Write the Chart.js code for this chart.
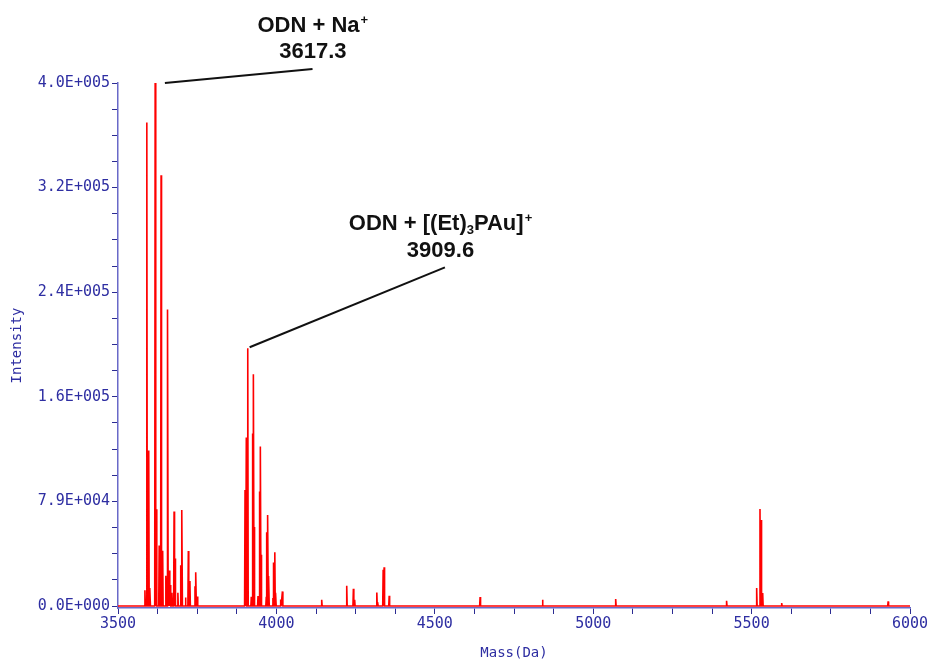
<!DOCTYPE html>
<html>
<head>
<meta charset="utf-8">
<script src="https://cdn.jsdelivr.net/npm/chart.js@4.4.1/dist/chart.umd.min.js"></script>
<style>
  html, body { margin: 0; padding: 0; background: #fff; }
</style>
</head>
<body>
<canvas id="spectrum" width="930" height="662"></canvas>
<script>
// peak list (mass in Da, intensity in counts)
const peakMass = [
  3585, 3591, 3597, 3601, 3617.3, 3621, 3630, 3636, 3641, 3651, 3654, 3657,
  3662, 3665, 3670, 3677, 3680, 3689, 3698, 3702, 3713, 3722, 3727, 3743,
  3746, 3751,
  3901, 3905, 3909.6, 3920.8, 3925, 3928, 3931, 3942, 3947, 3950, 3953,
  3968, 3970, 3973, 3976, 3989, 3991, 3995, 3998, 4013.5, 4019,
  4143, 4222, 4243, 4247, 4317, 4320, 4337, 4340, 4356,
  4643, 4840, 5071, 5421, 5516, 5526.5, 5530, 5535, 5595, 5931
];
const peakIntensity = [
  12000, 367000, 118000, 13600, 397000, 73500, 46000, 327000, 42000, 23000, 21000, 225000,
  27000, 16000, 10000, 71800, 36000, 10000, 31000, 72800, 6400, 41800, 19000, 15000,
  25700, 7300,
  88000, 128000, 195600, 7000, 131000, 176000, 60000, 7500, 87000, 121000, 39000,
  7000, 56000, 69000, 22700, 6000, 33000, 40800, 10000, 5000, 11100,
  4800, 15400, 13100, 4800, 10300, 3000, 27500, 29500, 7800,
  6800, 4800, 5300, 4000, 13600, 73600, 65300, 9800, 2300, 3500
];

const xTickLabels = ['3500', '4000', '4500', '5000', '5500', '6000'];
const yTickLabels = ['0.0E+000', '7.9E+004', '1.6E+005', '2.4E+005', '3.2E+005', '4.0E+005'];

const massMin = 3500, massMax = 6000;
const yMax = 397000;
const yStep = yMax / 20;

// each peak becomes a narrow spike on the zero baseline
function buildSpectrum() {
  const w = 1.4;
  const pts = [{ x: massMin, y: 0 }];
  for (let i = 0; i < peakMass.length; i++) {
    pts.push({ x: peakMass[i] - w, y: 0 });
    pts.push({ x: peakMass[i], y: peakIntensity[i] });
    pts.push({ x: peakMass[i] + w, y: 0 });
  }
  pts.push({ x: massMax, y: 0 });
  return pts;
}

const notes = [
  {
    lines: [[{ t: 'ODN + Na' }, { t: '+', sup: true }], [{ t: '3617.3' }]],
    mass: 4115, baselines: [435800, 415700],
    from: { x: 3648, y: 397000 }, to: { x: 4114, y: 407600 }
  },
  {
    lines: [[{ t: 'ODN + [(Et)' }, { t: '3', sub: true }, { t: 'PAu]' }, { t: '+', sup: true }], [{ t: '3909.6' }]],
    mass: 4518, baselines: [285300, 265200],
    from: { x: 3915.5, y: 196400 }, to: { x: 4532, y: 257100 }
  }
];

const mainFont = 'bold 22px "Liberation Sans", Arial, sans-serif';
const smallFont = 'bold 13px "Liberation Sans", Arial, sans-serif';

const peakLabels = {
  id: 'peakLabels',
  afterDatasetsDraw(chart) {
    const ctx = chart.ctx;
    const xs = chart.scales.x, ys = chart.scales.y;
    ctx.save();
    ctx.strokeStyle = '#111';
    ctx.lineWidth = 2;
    ctx.fillStyle = '#111';
    ctx.textBaseline = 'alphabetic';
    ctx.textAlign = 'left';
    notes.forEach(n => {
      ctx.beginPath();
      ctx.moveTo(xs.getPixelForValue(n.from.x), ys.getPixelForValue(n.from.y));
      ctx.lineTo(xs.getPixelForValue(n.to.x), ys.getPixelForValue(n.to.y));
      ctx.stroke();

      const cx = xs.getPixelForValue(n.mass);
      n.lines.forEach((segs, li) => {
        const by = ys.getPixelForValue(n.baselines[li]);
        let total = 0;
        segs.forEach(s => {
          ctx.font = (s.sup || s.sub) ? smallFont : mainFont;
          s.w = ctx.measureText(s.t).width + (s.sup ? 1 : 0);
          total += s.w;
        });
        let x = cx - total / 2;
        segs.forEach(s => {
          ctx.font = (s.sup || s.sub) ? smallFont : mainFont;
          let dy = 0;
          if (s.sup) dy = -8;
          if (s.sub) dy = 4;
          ctx.fillText(s.t, x + (s.sup ? 1 : 0), by + dy);
          x += s.w;
        });
      });
    });
    ctx.restore();
  }
};

const axisText = '#2e2ea2';
const axisLine = 'rgb(105,105,200)';
const tickMark = '#2c2c92';
const tickFont = { family: '"DejaVu Sans Mono", monospace', size: 15 };

new Chart(document.getElementById('spectrum').getContext('2d'), {
  type: 'line',
  data: {
    datasets: [{
      data: buildSpectrum(),
      borderColor: 'rgb(255,0,0)',
      borderWidth: 1.6,
      pointRadius: 0,
      tension: 0,
      fill: false
    }]
  },
  options: {
    responsive: false,
    animation: false,
    layout: { padding: { top: 83, right: 20, left: 0, bottom: 0 } },
    plugins: { legend: { display: false }, tooltip: { enabled: false } },
    scales: {
      x: {
        type: 'linear',
        min: massMin,
        max: massMax,
        grid: { drawOnChartArea: false, color: tickMark, tickLength: 6, tickWidth: 1 },
        border: { color: axisLine, width: 1.5 },
        ticks: {
          stepSize: 125,
          autoSkip: false,
          maxRotation: 0,
          padding: 1,
          color: axisText,
          font: tickFont,
          callback: v => (v % 500 === 0 ? xTickLabels[(v - massMin) / 500] : '')
        },
        title: {
          display: true,
          text: 'Mass(Da)',
          color: axisText,
          font: { family: '"DejaVu Sans Mono", monospace', size: 14 },
          padding: { top: 0, bottom: 0 }
        },
        afterFit(scale) { scale.height = 54; }
      },
      y: {
        min: -1500,
        max: yMax,
        grid: { drawOnChartArea: false, color: tickMark, tickLength: 6, tickWidth: 1 },
        border: { color: axisLine, width: 1.5 },
        afterBuildTicks(scale) {
          scale.ticks = Array.from({ length: 21 }, (_, k) => ({ value: k * yStep }));
        },
        ticks: {
          autoSkip: false,
          padding: 2,
          color: axisText,
          font: tickFont,
          callback: (v, i) => (i % 4 === 0 ? yTickLabels[i / 4] : '')
        },
        title: {
          display: true,
          text: 'Intensity',
          color: axisText,
          font: { family: '"DejaVu Sans Mono", monospace', size: 14 },
          padding: { top: 9, bottom: 0 }
        },
        afterFit(scale) { scale.width = 118; }
      }
    }
  },
  plugins: [peakLabels]
});
</script>
</body>
</html>
